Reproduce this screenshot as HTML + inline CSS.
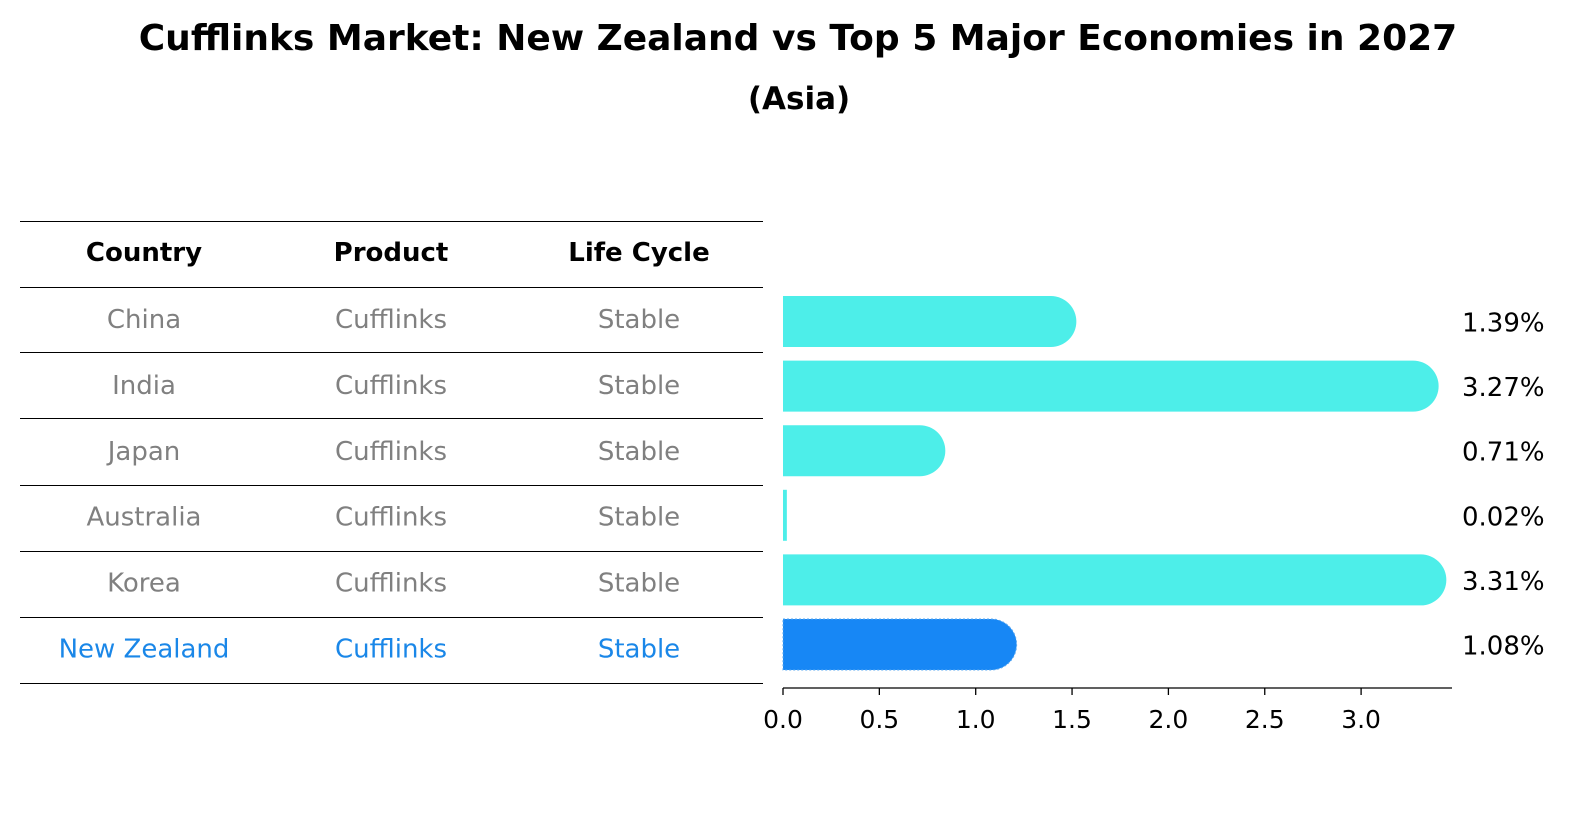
<!DOCTYPE html>
<html><head><meta charset="utf-8"><style>
body{margin:0;background:#fff;font-family:"DejaVu Sans","Liberation Sans",sans-serif;}
#wrap{position:relative;width:1586px;height:823px;overflow:hidden;}
</style></head><body>
<div id="wrap">
<svg id="svg" width="1586" height="823" xmlns="http://www.w3.org/2000/svg" font-family="'DejaVu Sans', 'Liberation Sans', sans-serif">
<text x="798" y="50" text-anchor="middle" font-size="36" font-weight="bold">Cufflinks Market: New Zealand vs Top 5 Major Economies in 2027</text>
<text x="799" y="109" text-anchor="middle" font-size="31" font-weight="bold">(Asia)</text>
<g id="table"></g>
<g id="bars"></g>
<g id="axis"></g>
</svg>
</div>
<script>
const countries=["China","India","Japan","Australia","Korea","New Zealand"];
const products=["Cufflinks","Cufflinks","Cufflinks","Cufflinks","Cufflinks","Cufflinks"];
const lifecycles=["Stable","Stable","Stable","Stable","Stable","Stable"];
const values=[1.39,3.27,0.71,0.02,3.31,1.08];
const ticks=[0,0.5,1,1.5,2,2.5,3];
const NS="http://www.w3.org/2000/svg";
function mk(t,a,p){const e=document.createElementNS(NS,t);for(const k in a)e.setAttribute(k,a[k]);p.appendChild(e);return e;}
const x0=783,scale=192.7;
const xs=v=>x0+v*scale;
const rowTop=i=>287+i*65.9;
const tbl=document.getElementById('table');
const lines=[221,287,352,418,485,551,617,683];
lines.forEach((y,i)=>{const l=mk('line',{x1:20,x2:763,y1:y+0.5,y2:y+0.5,stroke:'#000','stroke-width':1},tbl);

});
const colX=[144,391,639];
["Country","Product","Life Cycle"].forEach((h,j)=>{const t=mk('text',{x:colX[j],y:261,'text-anchor':'middle','font-size':26,'font-weight':'bold'},tbl);t.textContent=h;

});
const bars=document.getElementById('bars');
countries.forEach((c,i)=>{
 const nz=i===countries.length-1;
 const col=nz?'#1a87e8':'#808080';
 const cy=rowTop(i)+33;
 [c,products[i],lifecycles[i]].forEach((s,j)=>{const t=mk('text',{x:colX[j],y:cy+8,'text-anchor':'middle','font-size':26,fill:col},tbl);t.textContent=s;
 
 });
 const by=296+i*64.6,h=51,r=25.5,w=values[i]*scale;
 const fill=nz?'#1787f5':'#4deee9';
 let d;
 if(w>r){d=`M${x0},${by} H${x0+w} A${r},${r} 0 0 1 ${x0+w},${by+h} H${x0} Z`;}
 else{d=`M${x0},${by} H${x0+Math.max(w,3)} V${by+h} H${x0} Z`;}
 const b=mk('path',{d:d,fill:fill},bars);
 if(nz){b.setAttribute('stroke','#5aa8f0');b.setAttribute('stroke-dasharray','2,2');}
 
 
 const lt=mk('text',{x:1462,y:by+h/2+10,'font-size':26},bars);lt.textContent=values[i].toFixed(2)+'%';
 
 
});
const ax=document.getElementById('axis');
mk('line',{x1:x0,x2:1452,y1:688,y2:688,stroke:'#000','stroke-width':1.3},ax);
ticks.forEach(v=>{const x=xs(v);mk('line',{x1:x,x2:x,y1:688,y2:695,stroke:'#000','stroke-width':1.3},ax);
 const t=mk('text',{x:x,y:728,'text-anchor':'middle','font-size':25},ax);t.textContent=v.toFixed(1);
 
 });
</script>
</body></html>
